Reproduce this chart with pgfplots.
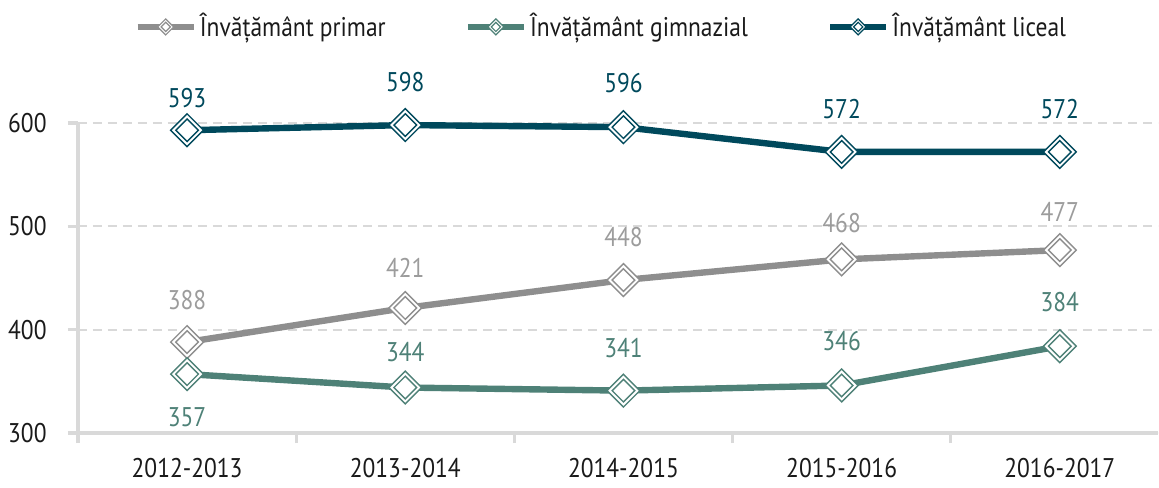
\documentclass[border=0pt]{standalone}
\usepackage{fontspec}
\setmainfont{PT Sans}[FakeStretch=0.87]
\usepackage{pgfplots}
\pgfplotsset{compat=1.18}
\usepackage{pgfplotstable}
\definecolor{cPrim}{HTML}{8E8E8E}
\definecolor{cPrimL}{HTML}{9C9C9C}
\definecolor{cGim}{HTML}{4E8177}
\definecolor{cLic}{HTML}{00495C}
\definecolor{cAx}{HTML}{D9D9D9}
\definecolor{cTxt}{HTML}{1A1A1A}

\pgfplotstableread{
x y dy
0 388 21
1 421 20
2 448 21.5
3 468 18
4 477 19
}\prim
\pgfplotstableread{
x y dy
0 357 -21.5
1 344 17.5
2 341 21.5
3 346 22
4 384 22
}\gim
\pgfplotstableread{
x y dy
0 593 16
1 598 21.5
2 596 22
3 572 21.5
4 572 21.5
}\lic

\pgfplotsset{
  outermk/.style={forget plot, only marks, mark=square*, mark size=5.8pt,
    mark options={rotate=45, fill=white, draw=#1, line width=0.7pt}},
  innermk/.style={forget plot, only marks, mark=square, mark size=4pt,
    mark options={rotate=45, draw=#1, line width=0.7pt}},
  lbl/.style={point meta=explicit symbolic,
    visualization depends on={\thisrow{dy}\as\dy},
    nodes near coords,
    nodes near coords style={text=#1, anchor=center, yshift=\dy pt, inner sep=0pt}},
}

\begin{document}
\fontsize{13.5}{16}\selectfont
\begin{tikzpicture}
\begin{axis}[
  name=ax,
  scale only axis, width=540pt, height=155pt,
  xmin=-0.5, xmax=4.45, ymin=300, ymax=600,
  axis x line*=bottom, axis y line*=left,
  axis line style={cAx, line width=1.6pt},
  xtick={-0.5,0.5,1.5,2.5,3.5}, xticklabels={},
  extra x ticks={0,1,2,3,4},
  extra x tick labels={2012-2013,2013-2014,2014-2015,2015-2016,2016-2017},
  extra x tick style={major tick length=0pt, grid=none, tick label style={yshift=-8pt}},
  ytick={300,400,500,600},
  ymajorgrids,
  grid style={cAx, line width=1pt, dash pattern=on 4.5pt off 3pt},
  tick align=outside, major tick length=5pt,
  tick style={cAx, line width=1.6pt},
  tick label style={text=cTxt, font=\fontsize{13.5}{16}\selectfont},
  yticklabel style={xshift=-6pt},
  /pgf/number format/assume math mode=true,
  clip=false,
  legend style={at={(0.485,1.31)}, anchor=center, draw=none, fill=none,
    legend columns=-1, font=\fontsize{13.5}{16}\selectfont,
    /tikz/every even column/.append style={column sep=38pt},
    nodes={inner sep=1.5pt, text=cTxt}},
  legend image code/.code={
    \draw[#1, line width=3.2pt] (0pt,0pt) -- (28pt,0pt);
    \draw[#1, line width=0.6pt, fill=white] (14pt,4pt) -- (18pt,0pt) -- (14pt,-4pt) -- (10pt,0pt) -- cycle;
    \draw[#1, line width=0.6pt] (14pt,2.3pt) -- (16.3pt,0pt) -- (14pt,-2.3pt) -- (11.7pt,0pt) -- cycle;
  },
]
\addlegendimage{cPrim}
\addlegendentry{Învățământ primar}
\addlegendimage{cGim}
\addlegendentry{Învățământ gimnazial}
\addlegendimage{cLic}
\addlegendentry{Învățământ liceal}

\addplot[forget plot, cPrim, line width=3.2pt] table[x=x,y=y]{\prim};
\addplot[outermk=cPrim] table[x=x,y=y]{\prim};
\addplot[innermk=cPrim, lbl=cPrimL] table[x=x,y=y,meta=y]{\prim};

\addplot[forget plot, cGim, line width=3.2pt] table[x=x,y=y]{\gim};
\addplot[outermk=cGim] table[x=x,y=y]{\gim};
\addplot[innermk=cGim, lbl=cGim] table[x=x,y=y,meta=y]{\gim};

\addplot[forget plot, cLic, line width=3.2pt] table[x=x,y=y]{\lic};
\addplot[outermk=cLic] table[x=x,y=y]{\lic};
\addplot[innermk=cLic, lbl=cLic] table[x=x,y=y,meta=y]{\lic};
\end{axis}
\pgfresetboundingbox
\path[use as bounding box] ([shift={(-39pt,-27.5pt)}]ax.south west) rectangle ([shift={(0.5pt,61.5pt)}]ax.north east);
\end{tikzpicture}
\end{document}
